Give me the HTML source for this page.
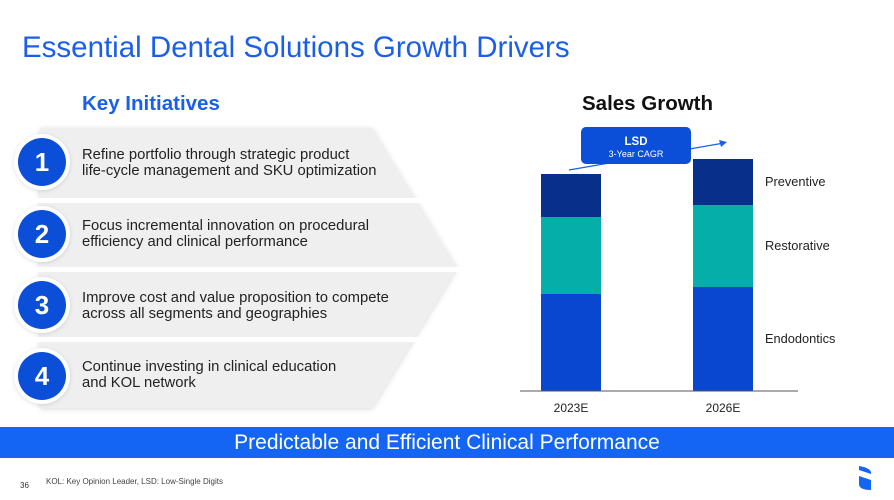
<!DOCTYPE html>
<html><head><meta charset="utf-8"><style>
body{margin:0;width:894px;height:500px;background:#fff;font-family:"Liberation Sans",sans-serif;position:relative;overflow:hidden}
.abs{position:absolute}
.item{position:absolute;left:82px;font-size:14.8px;color:#222;line-height:16px}
.circ{position:absolute;left:18px;width:48px;height:48px;border-radius:50%;background:#0b4fd8;color:#fff;font-weight:bold;font-size:26px;text-align:center;line-height:48px;box-shadow:0 0 0 4px #fff,0 1px 5px 4px rgba(0,0,0,0.12)}
</style></head><body>
<div class="abs" style="left:22px;top:31px;font-size:29.5px;color:#1a5fe8">Essential Dental Solutions Growth Drivers</div>
<div class="abs" style="left:82px;top:92px;font-size:20.5px;font-weight:bold;color:#1a5fe8">Key Initiatives</div>
<svg class="abs" style="left:0;top:0" width="894" height="500">
<polygon points="40,128 372,128 457,268 372,408 40,408" fill="#efefef" style="filter:drop-shadow(0 1px 3px rgba(0,0,0,0.15))"/>
<rect x="30" y="198" width="440" height="5" fill="#fff"/>
<rect x="30" y="267" width="440" height="5" fill="#fff"/>
<rect x="30" y="337" width="440" height="5" fill="#fff"/>
</svg>
<div class="circ" style="top:138px">1</div>
<div class="circ" style="top:210px">2</div>
<div class="circ" style="top:281px">3</div>
<div class="circ" style="top:352px">4</div>
<div class="item" style="top:147px">Refine portfolio through strategic product<br>life-cycle management and SKU optimization</div>
<div class="item" style="top:218px">Focus incremental innovation on procedural<br>efficiency and clinical performance</div>
<div class="item" style="top:290px">Improve cost and value proposition to compete<br>across all segments and geographies</div>
<div class="item" style="top:359px">Continue investing in clinical education<br>and KOL network</div>
<div class="abs" style="left:582px;top:92px;font-size:20.5px;font-weight:bold;color:#111">Sales Growth</div>
<svg id="chart" class="abs" style="left:0;top:0" width="894" height="500"></svg>
<div class="abs" style="left:0;top:427px;width:894px;height:31px;background:#1565f5;color:#fff;font-size:21px;text-align:center;line-height:31px">Predictable and Efficient Clinical Performance</div>
<div class="abs" style="left:20px;top:481px;font-size:8px;color:#333">36</div>
<div class="abs" style="left:46px;top:477px;font-size:8px;color:#444">KOL: Key Opinion Leader, LSD: Low-Single Digits</div>
<svg class="abs" style="left:856px;top:464px" width="18" height="28"><path d="M3 2 Q16 4 15 10 L3 6 Z M3 12 L15 16 L15 26 Q3 26 3 20 Z" fill="#1565f5"/></svg>
<script>
const categories=["2023E","2026E"];
const endodontics=[97,104];
const restorative=[77,82];
const preventive=[43,46];
const seriesNames=["Endodontics","Restorative","Preventive"];
const colors=["#0a47d0","#06aeaa","#08308a"];
const NS="http://www.w3.org/2000/svg";
const svg=document.getElementById("chart");
const baseY=391,scale=1.0;
const y=v=>baseY-v*scale;
const xCenter=i=>571+i*152;
const barW=60;
function mk(t,a){const e=document.createElementNS(NS,t);for(const k in a)e.setAttribute(k,a[k]);svg.appendChild(e);return e;}
const series=[endodontics,restorative,preventive];
categories.forEach((c,i)=>{
  let cum=0;
  series.forEach((s,j)=>{
    const r=mk("rect",{x:xCenter(i)-barW/2,y:y(cum+s[i]),width:barW,height:s[i]*scale,fill:colors[j]});
    
    
    cum+=s[i];
  });
  const t=mk("text",{x:xCenter(i),y:412,"text-anchor":"middle","font-size":"12",fill:"#222"});
  t.textContent=c;
  
  
});
const ax=mk("line",{x1:520,y1:baseY,x2:798,y2:baseY,stroke:"#555","stroke-width":1});


let cum=0;
series.forEach((s,j)=>{
  const mid=y(cum+s[1]/2);cum+=s[1];
  const t=mk("text",{x:765,y:mid+4,"font-size":"12.8",fill:"#222"});
  t.textContent=seriesNames[j];
  
  
});
const l=mk("line",{x1:569,y1:170,x2:724,y2:143,stroke:"#1a5fe8","stroke-width":1.2});


const ah=mk("polygon",{points:"727,142 719,140 721,147",fill:"#1a5fe8"});


const bx=mk("rect",{x:581,y:127,width:110,height:37,rx:5,fill:"#0b4fd8"});


const t1=mk("text",{x:636,y:145,"text-anchor":"middle","font-size":"11.5","font-weight":"bold",fill:"#fff"});
t1.textContent="LSD";


const t2=mk("text",{x:636,y:157,"text-anchor":"middle","font-size":"9",fill:"#fff"});
t2.textContent="3-Year CAGR";


</script>
</body></html>
